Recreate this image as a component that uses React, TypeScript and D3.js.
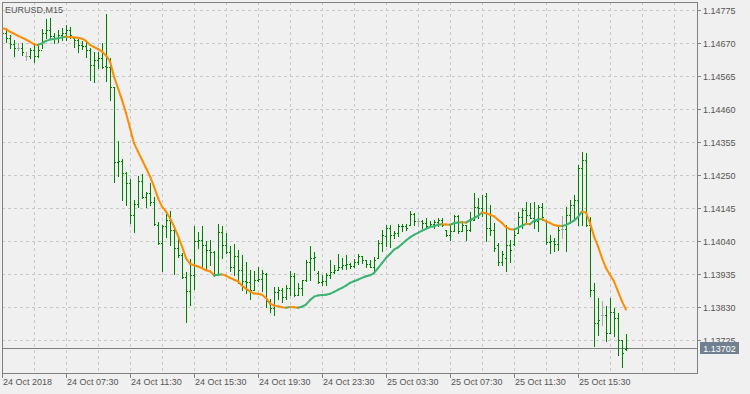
import React, { useEffect } from "react";
import * as d3 from "d3";

const symbolTitle = "EURUSD,M15";

const open = [1.14720,1.14704,1.14688,1.14669,1.14656,1.14656,1.14632,1.14632,1.14650,1.14631,1.14650,1.14704,1.14714,1.14695,1.14688,1.14698,1.14704,1.14714,1.14688,1.14682,1.14666,1.14663,1.14650,1.14602,1.14618,1.14625,1.14599,1.14596,1.14532,1.14294,1.14295,1.14259,1.14227,1.14125,1.14160,1.14231,1.14182,1.14195,1.14164,1.14093,1.14036,1.14090,1.14107,1.14077,1.14020,1.13998,1.13928,1.13883,1.13934,1.14040,1.14045,1.14030,1.14014,1.14007,1.13937,1.14071,1.14030,1.14007,1.13960,1.13992,1.13950,1.13913,1.13910,1.13886,1.13918,1.13921,1.13937,1.13849,1.13827,1.13880,1.13886,1.13862,1.13893,1.13931,1.13870,1.13893,1.13916,1.13976,1.13988,1.13940,1.13912,1.13913,1.13934,1.13944,1.13950,1.13960,1.13966,1.13969,1.13963,1.13975,1.13992,1.13982,1.13969,1.13960,1.13988,1.14036,1.14058,1.14084,1.14061,1.14068,1.14088,1.14090,1.14093,1.14128,1.14104,1.14104,1.14100,1.14088,1.14096,1.14103,1.14109,1.14077,1.14061,1.14072,1.14120,1.14074,1.14093,1.14077,1.14109,1.14151,1.14146,1.14185,1.14084,1.14077,1.14030,1.13975,1.13988,1.14030,1.14033,1.14068,1.14119,1.14141,1.14125,1.14115,1.14104,1.14150,1.14109,1.14037,1.14040,1.14033,1.14079,1.14079,1.14125,1.14157,1.14173,1.14274,1.14300,1.14093,1.13886,1.13780,1.13807,1.13807,1.13749,1.13814,1.13797,1.13727,1.13698];

const high = [1.14726,1.14721,1.14698,1.14682,1.14672,1.14672,1.14644,1.14656,1.14669,1.14666,1.14717,1.14749,1.14752,1.14704,1.14714,1.14720,1.14729,1.14723,1.14691,1.14685,1.14679,1.14675,1.14656,1.14644,1.14644,1.14672,1.14764,1.14625,1.14533,1.14360,1.14303,1.14260,1.14240,1.14173,1.14249,1.14255,1.14198,1.14227,1.14182,1.14103,1.14093,1.14128,1.14138,1.14084,1.14052,1.14004,1.13941,1.13985,1.14090,1.14071,1.14090,1.14042,1.14045,1.14008,1.14096,1.14088,1.14068,1.14024,1.14033,1.14014,1.13998,1.13976,1.13950,1.13945,1.13960,1.13950,1.13940,1.13855,1.13896,1.13896,1.13893,1.13902,1.13945,1.13940,1.13909,1.13918,1.13982,1.14026,1.14007,1.13945,1.13934,1.13940,1.13982,1.13966,1.14001,1.13988,1.13998,1.13972,1.13985,1.14001,1.13992,1.13982,1.13982,1.13989,1.14045,1.14077,1.14093,1.14091,1.14072,1.14096,1.14096,1.14096,1.14138,1.14131,1.14115,1.14109,1.14116,1.14104,1.14109,1.14115,1.14115,1.14077,1.14093,1.14125,1.14125,1.14104,1.14093,1.14135,1.14194,1.14178,1.14189,1.14194,1.14157,1.14099,1.14035,1.14008,1.14093,1.14045,1.14077,1.14135,1.14146,1.14167,1.14162,1.14167,1.14157,1.14162,1.14109,1.14061,1.14051,1.14088,1.14122,1.14151,1.14173,1.14189,1.14284,1.14326,1.14321,1.14119,1.13908,1.13860,1.13849,1.13833,1.13860,1.13828,1.13812,1.13727,1.13746];

const low = [1.14682,1.14674,1.14656,1.14632,1.14650,1.14634,1.14618,1.14625,1.14612,1.14628,1.14656,1.14688,1.14688,1.14672,1.14675,1.14682,1.14682,1.14688,1.14659,1.14644,1.14653,1.14628,1.14554,1.14548,1.14593,1.14593,1.14552,1.14491,1.14228,1.14247,1.14173,1.14157,1.14100,1.14069,1.14151,1.14179,1.14150,1.14157,1.14093,1.14033,1.13945,1.14055,1.14030,1.13937,1.13991,1.13925,1.13782,1.13839,1.13890,1.14020,1.13956,1.13950,1.13966,1.13929,1.13934,1.13988,1.14004,1.13945,1.13934,1.13909,1.13886,1.13877,1.13858,1.13886,1.13913,1.13881,1.13832,1.13814,1.13807,1.13855,1.13848,1.13855,1.13870,1.13865,1.13870,1.13870,1.13913,1.13918,1.13950,1.13909,1.13902,1.13902,1.13925,1.13940,1.13950,1.13953,1.13953,1.13956,1.13960,1.13969,1.13972,1.13960,1.13957,1.13945,1.13988,1.14008,1.14024,1.14021,1.14052,1.14056,1.14072,1.14077,1.14093,1.14093,1.14088,1.14083,1.14083,1.14085,1.14083,1.14088,1.14088,1.14056,1.14045,1.14072,1.14067,1.14072,1.14045,1.14072,1.14109,1.14114,1.14120,1.14040,1.14061,1.14008,1.13966,1.13966,1.13945,1.13976,1.14030,1.14067,1.14083,1.14099,1.14114,1.14083,1.14072,1.14109,1.14033,1.14003,1.14008,1.14014,1.14051,1.14008,1.14099,1.14109,1.14093,1.14093,1.14088,1.13865,1.13706,1.13743,1.13775,1.13722,1.13749,1.13738,1.13679,1.13639,1.13695];

const close = [1.14704,1.14688,1.14669,1.14656,1.14656,1.14644,1.14632,1.14650,1.14631,1.14650,1.14704,1.14714,1.14695,1.14688,1.14698,1.14704,1.14714,1.14698,1.14682,1.14666,1.14663,1.14650,1.14602,1.14618,1.14625,1.14596,1.14596,1.14533,1.14294,1.14295,1.14259,1.14227,1.14125,1.14160,1.14231,1.14182,1.14195,1.14164,1.14096,1.14036,1.14090,1.14107,1.14077,1.14020,1.13998,1.13928,1.13883,1.13934,1.14040,1.14045,1.14030,1.14014,1.14007,1.13937,1.14071,1.14030,1.14007,1.13960,1.13992,1.13950,1.13913,1.13910,1.13886,1.13918,1.13921,1.13940,1.13849,1.13827,1.13880,1.13886,1.13862,1.13893,1.13931,1.13870,1.13893,1.13916,1.13976,1.13988,1.13991,1.13912,1.13913,1.13934,1.13944,1.13950,1.13960,1.13966,1.13969,1.13963,1.13975,1.13992,1.13982,1.13969,1.13960,1.13982,1.14036,1.14059,1.14084,1.14061,1.14068,1.14088,1.14090,1.14084,1.14128,1.14104,1.14104,1.14100,1.14088,1.14096,1.14103,1.14109,1.14093,1.14061,1.14072,1.14120,1.14074,1.14093,1.14077,1.14109,1.14151,1.14146,1.14135,1.14084,1.14077,1.14020,1.13975,1.14001,1.14030,1.14014,1.14061,1.14119,1.14141,1.14125,1.14115,1.14104,1.14150,1.14119,1.14037,1.14040,1.14033,1.14077,1.14079,1.14125,1.14157,1.14173,1.14274,1.14300,1.14093,1.13886,1.13780,1.13791,1.13807,1.13749,1.13814,1.13797,1.13727,1.13685,1.13702];

const ma = [1.14719,1.14716,1.14708,1.14702,1.14695,1.14689,1.14683,1.14676,1.14668,1.14666,1.14671,1.14679,1.14683,1.14685,1.14687,1.14690,1.14692,1.14691,1.14690,1.14689,1.14686,1.14679,1.14666,1.14659,1.14653,1.14645,1.14632,1.14613,1.14565,1.14528,1.14491,1.14449,1.14401,1.14353,1.14326,1.14300,1.14274,1.14247,1.14215,1.14178,1.14151,1.14135,1.14114,1.14088,1.14058,1.14024,1.13987,1.13969,1.13964,1.13960,1.13955,1.13948,1.13945,1.13932,1.13934,1.13935,1.13931,1.13924,1.13918,1.13913,1.13899,1.13889,1.13881,1.13874,1.13873,1.13870,1.13860,1.13842,1.13836,1.13833,1.13830,1.13829,1.13831,1.13830,1.13829,1.13832,1.13839,1.13853,1.13864,1.13868,1.13869,1.13870,1.13873,1.13879,1.13886,1.13892,1.13899,1.13908,1.13913,1.13918,1.13924,1.13929,1.13932,1.13939,1.13955,1.13971,1.13987,1.14000,1.14014,1.14021,1.14032,1.14043,1.14053,1.14061,1.14067,1.14074,1.14080,1.14086,1.14088,1.14093,1.14095,1.14094,1.14093,1.14098,1.14100,1.14101,1.14100,1.14108,1.14114,1.14121,1.14132,1.14130,1.14125,1.14120,1.14109,1.14099,1.14085,1.14079,1.14078,1.14083,1.14090,1.14096,1.14095,1.14106,1.14110,1.14112,1.14104,1.14099,1.14092,1.14090,1.14089,1.14092,1.14099,1.14106,1.14118,1.14135,1.14132,1.14099,1.14056,1.14024,1.13987,1.13955,1.13934,1.13913,1.13881,1.13849,1.13823];

const priceTicks = [1.14775,1.1467,1.14565,1.1446,1.14355,1.1425,1.14145,1.1404,1.13935,1.1383,1.13725];
const currentPrice = 1.13702;

const timeLabels = ["24 Oct 2018","24 Oct 07:30","24 Oct 11:30","24 Oct 15:30","24 Oct 19:30","24 Oct 23:30","25 Oct 03:30","25 Oct 07:30","25 Oct 11:30","25 Oct 15:30"];
const labelEvery = 16;
const gridEvery = 8;

const W = 750, H = 394;
const plotL = 2, plotR = 697, plotT = 2, plotB = 373;
const bg = "#f0f0f0";
const gridColor = "#c8c8c8";
const axisColor = "#808080";
const textColor = "#555555";
const barColor = "#008000";
const dojiColor = "#a9a9a9";
const upColor = "#3cb371";
const downColor = "#ff8c00";
const font = "'Liberation Sans', Arial, sans-serif";

export default function App() {
  useEffect(() => {
    document.body.style.margin = "0";
  }, []);
  const n = close.length;
  const x = d3.scaleLinear().domain([0, n - 1]).range([2, 2 + 4 * (n - 1)]);
  const y = d3.scaleLinear().domain([1.13725, 1.14775]).range([340.3, 10.7]);
  const ry = (v: number) => Math.round(y(v));

  const gridIdx: number[] = [];
  for (let i = gridEvery; x(i) < plotR; i += gridEvery) gridIdx.push(i);

  const segs = d3.range(1, n).map((i) => ({
    x1: x(i - 1), y1: y(ma[i - 1]), x2: x(i), y2: y(ma[i]),
    c: ma[i] > ma[i - 1] ? upColor : downColor,
  }));

  const py = Math.round(y(currentPrice)) + 0.5;

  return (
    <svg width={W} height={H} style={{ display: "block", position: "fixed", left: 0, top: 0 }} fontFamily={font}>
      <rect x={0} y={0} width={W} height={H} fill={bg} />
      <defs>
        <clipPath id="plot">
          <rect x={plotL} y={plotT} width={plotR - plotL} height={plotB - plotT} />
        </clipPath>
      </defs>
      {/* grid */}
      <g stroke={gridColor} strokeDasharray="3,3" shapeRendering="crispEdges">
        {priceTicks.map((t) => (
          <line key={t} x1={plotL} x2={plotR} y1={Math.floor(y(t)) + 0.5} y2={Math.floor(y(t)) + 0.5} />
        ))}
        {gridIdx.map((i) => (
          <line key={i} x1={x(i) + 0.5} x2={x(i) + 0.5} y1={plotT} y2={plotB} />
        ))}
      </g>
      {/* current price line */}
      <line x1={plotL} x2={plotR} y1={py} y2={py} stroke={axisColor} shapeRendering="crispEdges" />
      {/* bars */}
      <g clipPath="url(#plot)" shapeRendering="crispEdges">
        {close.map((c, i) => {
          const X = Math.round(x(i));
          const col = open[i] === c ? dojiColor : barColor;
          const yh = ry(high[i]);
          const yl = ry(low[i]);
          return (
            <g key={i} fill={col}>
              <rect x={X} y={yh} width={1} height={Math.max(1, yl - yh + 1)} />
              <rect x={X - 1} y={ry(open[i])} width={1} height={1} />
              <rect x={X + 1} y={ry(c)} width={1} height={1} />
            </g>
          );
        })}
      </g>
      {/* MA */}
      <g clipPath="url(#plot)" strokeWidth={2} strokeLinecap="round">
        {segs.map((s, i) => (
          <line key={i} x1={s.x1} y1={s.y1} x2={s.x2} y2={s.y2} stroke={s.c} />
        ))}
      </g>
      {/* border */}
      <rect x={plotL + 0.5} y={plotT + 0.5} width={plotR - plotL} height={plotB - plotT} fill="none" stroke={axisColor} shapeRendering="crispEdges" />
      {/* y axis */}
      <g fontSize={9} fill={textColor}>
        {priceTicks.map((t) => {
          const yy = Math.floor(y(t)) + 0.5;
          return (
            <g key={t}>
              <line x1={plotR} x2={plotR + 4} y1={yy} y2={yy} stroke={axisColor} shapeRendering="crispEdges" />
              <text x={plotR + 6} y={yy} dy="0.35em">{t.toFixed(5)}</text>
            </g>
          );
        })}
      </g>
      <rect x={700} y={py - 6.5} width={39} height={12} fill="#708090" />
      <text x={719.5} y={py} dy="0.35em" fontSize={9} fill="#ffffff" textAnchor="middle">{currentPrice.toFixed(5)}</text>
      {/* x axis */}
      <g fontSize={9} fill={textColor}>
        {timeLabels.map((lab, k) => {
          const X = Math.round(x(k * labelEvery)) + 0.5;
          return (
            <g key={lab}>
              <line x1={X} x2={X} y1={plotB} y2={plotB + 5} stroke={axisColor} shapeRendering="crispEdges" />
              <text x={X + 0.5} y={385}>{lab}</text>
            </g>
          );
        })}
      </g>
      <text x={5} y={13} fontSize={9} fill={textColor}>{symbolTitle}</text>
    </svg>
  );
}
